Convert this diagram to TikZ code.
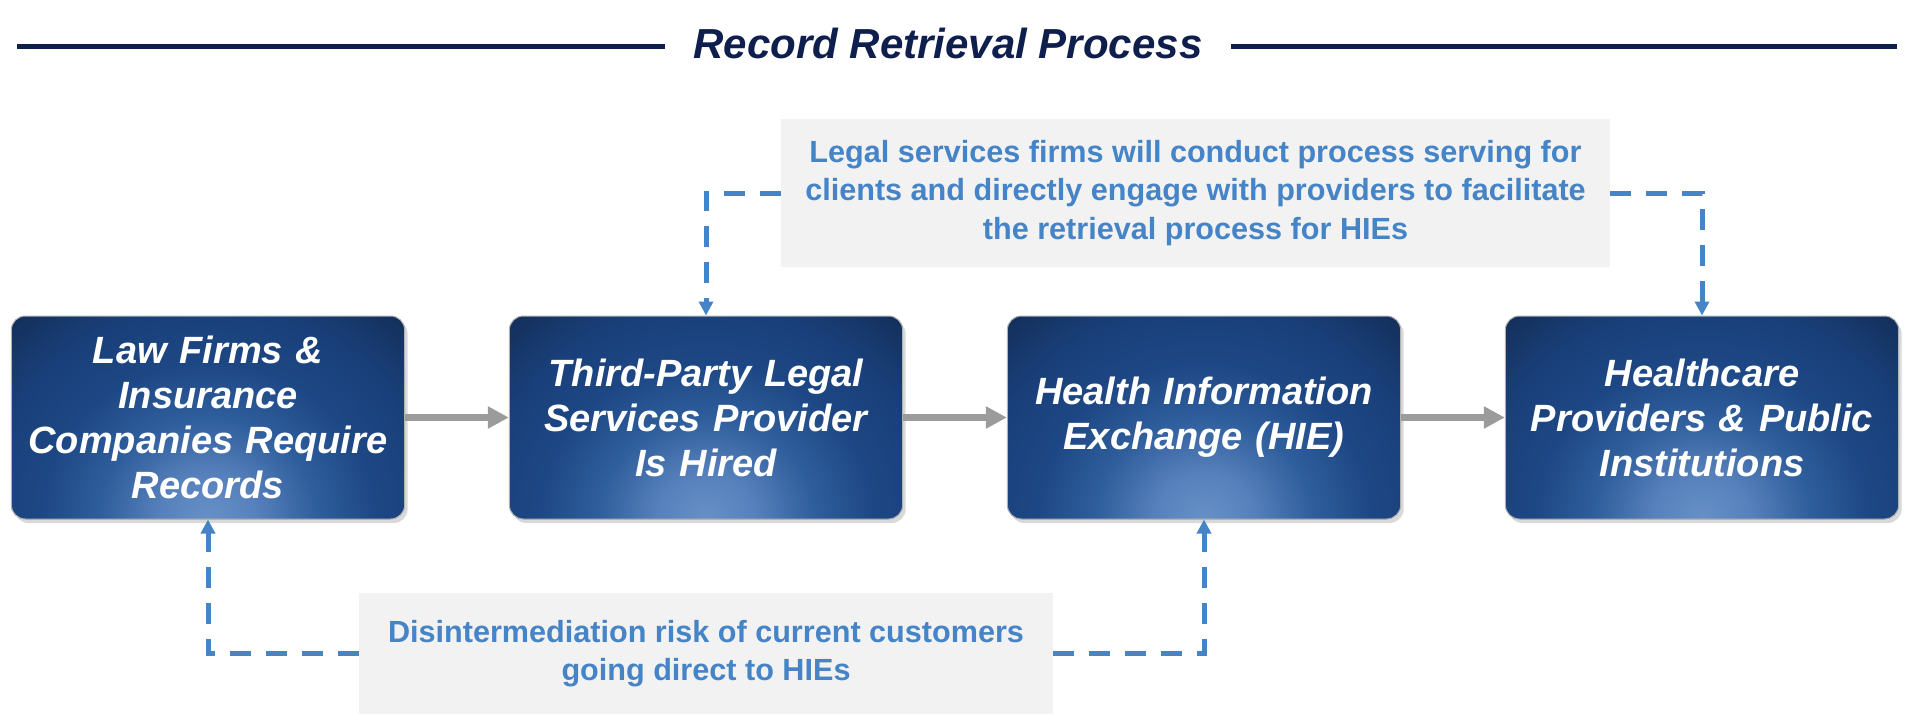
\documentclass[tikz,border=0pt]{standalone}
\usepackage{fontspec}
\setmainfont{Liberation Sans}
\usetikzlibrary{arrows.meta,shadows}
\definecolor{TitleNavy}{HTML}{0F1F4D}
\definecolor{BoxDark}{HTML}{132D56}
\definecolor{BoxNavy}{HTML}{193F79}
\definecolor{BoxMid}{HTML}{1D4784}
\definecolor{BoxLight}{HTML}{2F5E9C}
\definecolor{BoxSoft}{HTML}{5781BC}
\definecolor{BoxGlow}{HTML}{6690C6}
\definecolor{NoteBlue}{HTML}{4584C6}
\definecolor{NoteGrey}{HTML}{F2F2F2}
\definecolor{FlowGrey}{HTML}{9B9B9B}
\pgfdeclareradialshading{boxglow}{\pgfpoint{0bp}{0bp}}{%
  color(0bp)=(BoxGlow); color(4bp)=(BoxSoft); color(9bp)=(BoxLight);
  color(14bp)=(BoxMid); color(19bp)=(BoxNavy); color(25bp)=(BoxDark);
  color(50bp)=(BoxDark)}

\begin{document}
\begin{tikzpicture}[x=0.5pt,y=0.5pt,
    stagebox/.style={
      rounded corners=7pt,
      fill=BoxDark,
      draw=black!30,
      line width=0.5pt,
      minimum width=196pt,
      minimum height=101.5pt,
      text width=190pt,
      align=center,
      text=white,
      font=\fontsize{19}{22.5}\selectfont\bfseries\itshape,
      drop shadow={shadow xshift=1.5pt, shadow yshift=-2pt, opacity=0.3},
      path picture={\shade[shading=boxglow] (path picture bounding box.south)
        ellipse [x radius=150pt, y radius=140pt];}
    },
    notebox/.style={
      fill=NoteGrey,
      text=NoteBlue,
      align=center,
      inner sep=0pt,
      font=\fontsize{15.3}{19.25}\selectfont\bfseries
    },
    flow/.style={draw=FlowGrey, line width=3.4pt,
      -{Triangle[width=10.5pt,length=10.5pt]}},
    link/.style={draw=NoteBlue, line width=2.5pt,
      dash pattern=on 10.5pt off 7.5pt,
      -{Triangle[width=7pt,length=7pt]}},
    titlerule/.style={draw=TitleNavy, line width=2.3pt}]

    \useasboundingbox (0,0) rectangle (1920,714);

    \node[text=TitleNavy, font=\fontsize{21}{25}\selectfont\bfseries\itshape]
      (title) at (948,671) {Record Retrieval Process};
    \draw[titlerule] (17,667.5) -- (665,667.5);
    \draw[titlerule] (1231,667.5) -- (1897,667.5);

    \node[stagebox] (lawfirms) at (208,296.5)
      {Law Firms \&\\Insurance\\Companies Require\\Records};
    \node[stagebox] (hired) at (706,296.5)
      {Third-Party Legal\\Services Provider\\Is Hired};
    \node[stagebox] (hie) at (1204,296.5)
      {Health Information\\Exchange (HIE)};
    \node[stagebox] (providers) at (1702,296.5)
      {Healthcare\\Providers \& Public\\Institutions};

    \node[notebox, minimum width=414.5pt, minimum height=74pt]
      (servenote) at (1195.5,521)
      {Legal services firms will conduct process serving for\\
       clients and directly engage with providers to facilitate\\
       the retrieval process for HIEs};
    \node[notebox, minimum width=347pt, minimum height=60.5pt]
      (risknote) at (706,60.5)
      {Disintermediation risk of current customers\\
       going direct to HIEs};

    \draw[flow] (lawfirms) -- (hired);
    \draw[flow] (hired) -- (hie);
    \draw[flow] (hie) -- (providers);

    \draw[link] (servenote.west) -| (hired.north);
    \draw[link] (servenote.east) -| (providers.north);
    \draw[link] (risknote.west) -| (lawfirms.south);
    \draw[link] (risknote.east) -| (hie.south);
\end{tikzpicture}
\end{document}
